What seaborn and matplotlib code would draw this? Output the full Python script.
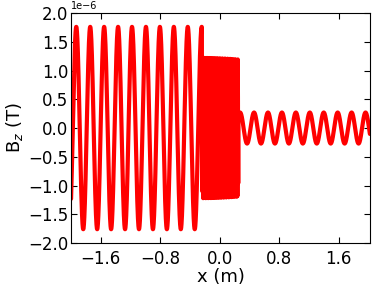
import numpy as np
import pandas as pd
import matplotlib
matplotlib.use("Agg")
import matplotlib.pyplot as plt
import seaborn as sns

# Region data
region_names = ["incident", "slab", "transmitted"]
region_start = [-2.0, -0.24, 0.25]
region_end = [-0.24, 0.25, 2.02]
amplitude = [1.76e-6, 1.22e-6, 0.27e-6]      # T
wavelength = [0.1875, 0.0115, 0.1875]         # m
first_peak = [-1.930, -0.24, 0.274]           # m
n_points = [3000, 200, 3000]

xticks = [-1.6, -0.8, 0.0, 0.8, 1.6]
yticks = [-2.0e-6, -1.5e-6, -1.0e-6, -0.5e-6, 0.0, 0.5e-6, 1.0e-6, 1.5e-6, 2.0e-6]

frames = []
for name, a, b, A, lam, xp, n in zip(region_names, region_start, region_end,
                                     amplitude, wavelength, first_peak, n_points):
    x = np.linspace(a, b, n)
    y = A * np.cos(2 * np.pi * (x - xp) / lam)
    frames.append(pd.DataFrame({"x": x, "B": y, "region": name}))
df = pd.concat(frames, ignore_index=True)

sns.set_style("ticks", {"text.color": "black", "xtick.color": "black",
                        "ytick.color": "black", "axes.labelcolor": "black",
                        "axes.edgecolor": "black"})
plt.rcParams["font.family"] = ["DejaVu Sans"]

fig = plt.figure(figsize=(3.74, 2.90), dpi=100)
ax = fig.add_axes([0.19, 0.162, 0.799, 0.793])
sns.lineplot(data=df, x="x", y="B", color="red", linewidth=3,
             estimator=None, sort=False, ax=ax, legend=False)

ax.set_xlim(-2.0, 2.02)
ax.set_ylim(-2.0e-6, 2.0e-6)
ax.set_xticks(xticks)
ax.set_yticks(yticks)
ax.tick_params(direction="in", top=True, right=True, labelsize=12, length=4,
               width=0.8, colors="black")
ax.tick_params(axis="x", pad=5)
ax.tick_params(axis="y", pad=2)
ax.ticklabel_format(axis="y", style="sci", scilimits=(0, 0), useMathText=False)
ax.yaxis.get_offset_text().set_fontsize(7)
ax.yaxis.get_offset_text().set_color("black")
ax.set_xlabel("x (m)", fontsize=13, labelpad=0, color="black")
ax.set_ylabel(r"B$_z$ (T)", fontsize=13, labelpad=2, color="black")
for s in ax.spines.values():
    s.set_linewidth(0.8)
    s.set_color("black")

fig.savefig("out.png", dpi=100)
